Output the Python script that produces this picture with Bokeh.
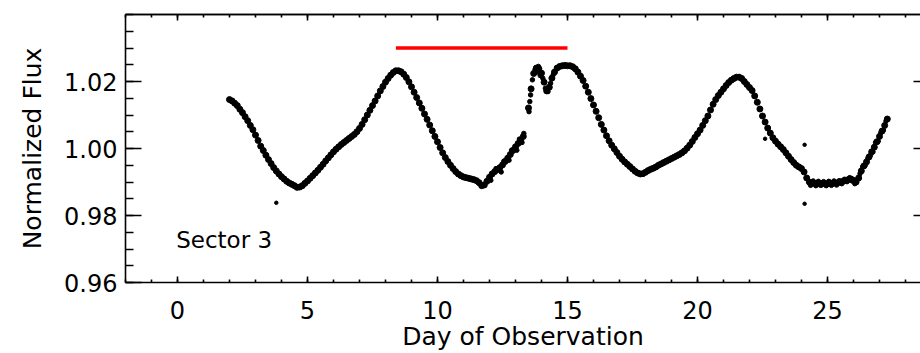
from bokeh.plotting import figure
from bokeh.models import Range1d, LinearAxis, FixedTicker, PrintfTickFormatter
from bokeh.embed import file_html
from bokeh.resources import INLINE
from bokeh.core.properties import value

FONT = "DejaVu Sans"

# ---- data ----
day_orbit1 = [2.0, 2.1, 2.2, 2.3, 2.4, 2.5, 2.6, 2.7, 2.8, 2.9,
              3.0, 3.1, 3.2, 3.3, 3.4, 3.5, 3.6, 3.7, 3.8, 3.9,
              4.0, 4.1, 4.2, 4.3, 4.4, 4.5, 4.6, 4.7, 4.8, 4.9,
              5.0, 5.1, 5.2, 5.3, 5.4, 5.5, 5.6, 5.7, 5.8, 5.9,
              6.0, 6.1, 6.2, 6.3, 6.4, 6.5, 6.6, 6.7, 6.8, 6.9,
              7.0, 7.1, 7.2, 7.3, 7.4, 7.5, 7.6, 7.7, 7.8, 7.9,
              8.0, 8.1, 8.2, 8.3, 8.4, 8.5, 8.6, 8.7, 8.8, 8.9,
              9.0, 9.1, 9.2, 9.3, 9.4, 9.5, 9.6, 9.7, 9.8, 9.9,
              10.0, 10.1, 10.2, 10.3, 10.4, 10.5, 10.6, 10.7, 10.8, 10.9,
              11.0, 11.1, 11.2, 11.3, 11.4, 11.5, 11.6, 11.7, 11.8, 11.9,
              12.0, 12.1, 12.2, 12.3, 12.4, 12.5, 12.6, 12.7, 12.8, 12.9,
              13.0, 13.1, 13.2, 13.3]
flux_orbit1 = [1.0146, 1.0142, 1.0135, 1.0128, 1.0117, 1.0107, 1.0095, 1.0083, 1.0069, 1.0056,
               1.0040, 1.0024, 1.0007, 0.9994, 0.9980, 0.9967, 0.9955, 0.9943, 0.9933, 0.9924,
               0.9916, 0.9909, 0.9902, 0.9897, 0.9893, 0.9889, 0.9884, 0.9885, 0.9889, 0.9896,
               0.9903, 0.9911, 0.9919, 0.9927, 0.9935, 0.9944, 0.9953, 0.9963, 0.9972, 0.9981,
               0.9990, 0.9998, 1.0005, 1.0012, 1.0018, 1.0024, 1.0030, 1.0036, 1.0042, 1.0050,
               1.0060, 1.0072, 1.0086, 1.0100, 1.0114, 1.0128, 1.0142, 1.0157, 1.0172, 1.0185,
               1.0198, 1.0209, 1.0219, 1.0227, 1.0232, 1.0232, 1.0229, 1.0222, 1.0212, 1.0199,
               1.0184, 1.0168, 1.0152, 1.0136, 1.0120, 1.0103, 1.0087, 1.0070, 1.0053, 1.0036,
               1.0020, 1.0003, 0.9987, 0.9973, 0.9961, 0.9950, 0.9940, 0.9931, 0.9924, 0.9919,
               0.9915, 0.9913, 0.9911, 0.9909, 0.9907, 0.9904, 0.9898, 0.9889, 0.9891, 0.9902,
               0.9914, 0.9924, 0.9931, 0.9937, 0.9943, 0.9951, 0.9961, 0.9971, 0.9982, 0.9994,
               1.0005, 1.0015, 1.0025, 1.0036]

day_orbit2 = [13.5, 13.6, 13.7, 13.8, 13.9, 14.0, 14.1, 14.2, 14.3, 14.4,
              14.5, 14.6, 14.7, 14.8, 14.9, 15.0, 15.1, 15.2, 15.3, 15.4,
              15.5, 15.6, 15.7, 15.8, 15.9, 16.0, 16.1, 16.2, 16.3, 16.4,
              16.5, 16.6, 16.7, 16.8, 16.9, 17.0, 17.1, 17.2, 17.3, 17.4,
              17.5, 17.6, 17.7, 17.8, 17.9, 18.0, 18.1, 18.2, 18.3, 18.4,
              18.5, 18.6, 18.7, 18.8, 18.9, 19.0, 19.1, 19.2, 19.3, 19.4,
              19.5, 19.6, 19.7, 19.8, 19.9, 20.0, 20.1, 20.2, 20.3, 20.4,
              20.5, 20.6, 20.7, 20.8, 20.9, 21.0, 21.1, 21.2, 21.3, 21.4,
              21.5, 21.6, 21.7, 21.8, 21.9, 22.0, 22.1, 22.2, 22.3, 22.4,
              22.5, 22.6, 22.7, 22.8, 22.9, 23.0, 23.1, 23.2, 23.3, 23.4,
              23.5, 23.6, 23.7, 23.8, 23.9, 24.0, 24.1, 24.2, 24.3, 24.4,
              24.5, 24.6, 24.7, 24.8, 24.9, 25.0, 25.1, 25.2, 25.3, 25.4,
              25.5, 25.6, 25.7, 25.8, 25.9, 26.0, 26.1, 26.2, 26.3, 26.4,
              26.5, 26.6, 26.7, 26.8, 26.9, 27.0, 27.1, 27.2, 27.3]
flux_orbit2 = [1.0121, 1.0178, 1.0224, 1.0240, 1.0238, 1.0225, 1.0198, 1.0172, 1.0183, 1.0210,
               1.0228, 1.0240, 1.0245, 1.0247, 1.0248, 1.0247, 1.0247, 1.0244, 1.0238, 1.0228,
               1.0216, 1.0203, 1.0186, 1.0168, 1.0149, 1.0130, 1.0111, 1.0092, 1.0072, 1.0055,
               1.0038, 1.0023, 1.0010, 0.9999, 0.9988, 0.9977, 0.9968, 0.9960, 0.9953, 0.9946,
               0.9939, 0.9932, 0.9927, 0.9924, 0.9925, 0.9929, 0.9934, 0.9938, 0.9941, 0.9945,
               0.9950, 0.9954, 0.9958, 0.9962, 0.9966, 0.9970, 0.9974, 0.9978, 0.9982, 0.9987,
               0.9993, 1.0001, 1.0010, 1.0021, 1.0033, 1.0044, 1.0055, 1.0069, 1.0083, 1.0097,
               1.0115, 1.0132, 1.0146, 1.0158, 1.0168, 1.0178, 1.0188, 1.0197, 1.0204, 1.0209,
               1.0213, 1.0213, 1.0209, 1.0200, 1.0191, 1.0182, 1.0173, 1.0157, 1.0138, 1.0118,
               1.0097, 1.0079, 1.0061, 1.0046, 1.0032, 1.0022, 1.0013, 1.0005, 0.9997, 0.9987,
               0.9977, 0.9967, 0.9958, 0.9950, 0.9945, 0.9940, 0.9930, 0.9912, 0.9900, 0.9897,
               0.9896, 0.9895, 0.9894, 0.9896, 0.9895, 0.9895, 0.9897, 0.9896, 0.9897, 0.9898,
               0.9900, 0.9902, 0.9905, 0.9907, 0.9909, 0.9905, 0.9900, 0.9912, 0.9933, 0.9948,
               0.9960, 0.9975, 0.9990, 1.0004, 1.0020, 1.0036, 1.0052, 1.0069, 1.0088]

# scattered points in the noisier stretches
day_scatter = [12.05, 12.25, 12.45, 12.55, 12.75, 12.85, 13.05, 13.15, 13.25, 13.32,
               13.52, 13.55, 13.58, 13.65, 13.75, 13.82, 13.88, 13.95, 14.05, 14.15,
               14.25, 14.35, 14.45,
               24.35, 24.45, 24.55, 24.65, 24.75, 24.85, 24.95, 25.05, 25.15, 25.25,
               25.35, 25.45, 25.55, 25.65, 25.75, 25.85, 25.95, 26.05,
               26.25, 26.35, 26.45, 26.55, 26.65, 26.75, 26.85, 26.95, 27.05, 27.15, 27.25]
flux_scatter = [0.9905, 0.9940, 0.9930, 0.9962, 0.9965, 0.9995, 0.9995, 1.0028, 1.0018, 1.0045,
                1.0110, 1.0140, 1.0160, 1.0205, 1.0235, 1.0228, 1.0245, 1.0218, 1.0210, 1.0180,
                1.0170, 1.0195, 1.0220,
                0.9890, 0.9903, 0.9889, 0.9902, 0.9890, 0.9901, 0.9889, 0.9902, 0.9890, 0.9903,
                0.9891, 0.9904, 0.9895, 0.9908, 0.9901, 0.9913, 0.9903, 0.9895,
                0.9925, 0.9945, 0.9950, 0.9970, 0.9980, 0.9990, 1.0018, 1.0022, 1.0047, 1.0055, 1.0082]

outlier_day = [3.8, 22.6, 24.12, 24.12]
outlier_flux = [0.9838, 1.0029, 1.0011, 0.9835]

marker_days = [8.4, 15.0]
marker_flux = [1.030, 1.030]

x_major_ticks = [0, 5, 10, 15, 20, 25]
y_major_ticks = [0.96, 0.98, 1.00, 1.02]
x_minor_ticks = list(range(-2, 29))
y_minor_ticks = [round(0.96 + 0.005 * i, 3) for i in range(17)]

sector_label = "Sector 3"
x_title = "Day of Observation"
y_title = "Normalized Flux"

# ---- figure ----
p = figure(width=920, height=353, output_backend="svg", toolbar_location=None,
           x_range=Range1d(-2, 28.577), y_range=Range1d(0.96, 1.04),
           min_border_left=125, min_border_right=0, min_border_top=14,
           min_border_bottom=71)
p.outline_line_color = None
p.background_fill_color = "white"
p.border_fill_color = "white"
p.grid.visible = False

LW = 1.6

def style_axis(ax, maj_in, min_in):
    ax.major_tick_in = maj_in
    ax.major_tick_out = 0
    ax.minor_tick_in = min_in
    ax.minor_tick_out = 0
    ax.axis_line_width = LW
    ax.major_tick_line_width = LW
    ax.minor_tick_line_width = LW
    ax.axis_line_color = "black"
    ax.major_tick_line_color = "black"
    ax.minor_tick_line_color = "black"
    ax.major_label_text_font = FONT
    ax.major_label_text_font_size = "24px"
    ax.major_label_text_color = "black"
    ax.axis_label_text_font = FONT
    ax.axis_label_text_font_size = "25px"
    ax.axis_label_text_font_style = "normal"
    ax.axis_label_text_color = "black"

xa = p.xaxis[0]
xa.ticker = FixedTicker(ticks=x_major_ticks, minor_ticks=x_minor_ticks)
style_axis(xa, 6, 3)
xa.major_label_standoff = 18
xa.axis_label = x_title
xa.axis_label_standoff = 0

ya = p.yaxis[0]
ya.ticker = FixedTicker(ticks=y_major_ticks, minor_ticks=y_minor_ticks)
ya.formatter = PrintfTickFormatter(format="%.2f")
style_axis(ya, 16, 8)
ya.major_label_standoff = 8
ya.axis_label = y_title
ya.axis_label_standoff = 14

# top axis: ticks only (no labels)
top_major = LinearAxis(ticker=FixedTicker(ticks=[], minor_ticks=x_major_ticks))
style_axis(top_major, 0, 6)
top_major.major_label_standoff = 0
p.add_layout(top_major, "above")

top_minor = LinearAxis(ticker=FixedTicker(ticks=[], minor_ticks=x_minor_ticks))
style_axis(top_minor, 0, 3)
top_minor.major_label_standoff = 0
p.add_layout(top_minor, "above")

# right side: only the major ticks reach into the visible window
right = LinearAxis(ticker=FixedTicker(ticks=[], minor_ticks=y_major_ticks[1:]))
style_axis(right, 0, 7)
right.axis_line_color = None
right.major_label_standoff = 0
p.add_layout(right, "right")

# ---- glyphs ----
p.scatter(day_orbit1, flux_orbit1, size=6, color="black")
p.scatter(day_orbit2, flux_orbit2, size=6, color="black")
p.scatter(day_scatter, flux_scatter, size=4.5, color="black")
p.scatter(outlier_day, outlier_flux, size=3.5, color="black")
p.line(marker_days, marker_flux, line_width=3.3, color="#ff0000")

p.text(x=[-0.05], y=[0.9727], text=[sector_label], text_font=value(FONT),
       text_font_size="23px", text_baseline="middle", text_align="left",
       text_color="black")

open("out.html", "w").write(file_html(p, INLINE))
